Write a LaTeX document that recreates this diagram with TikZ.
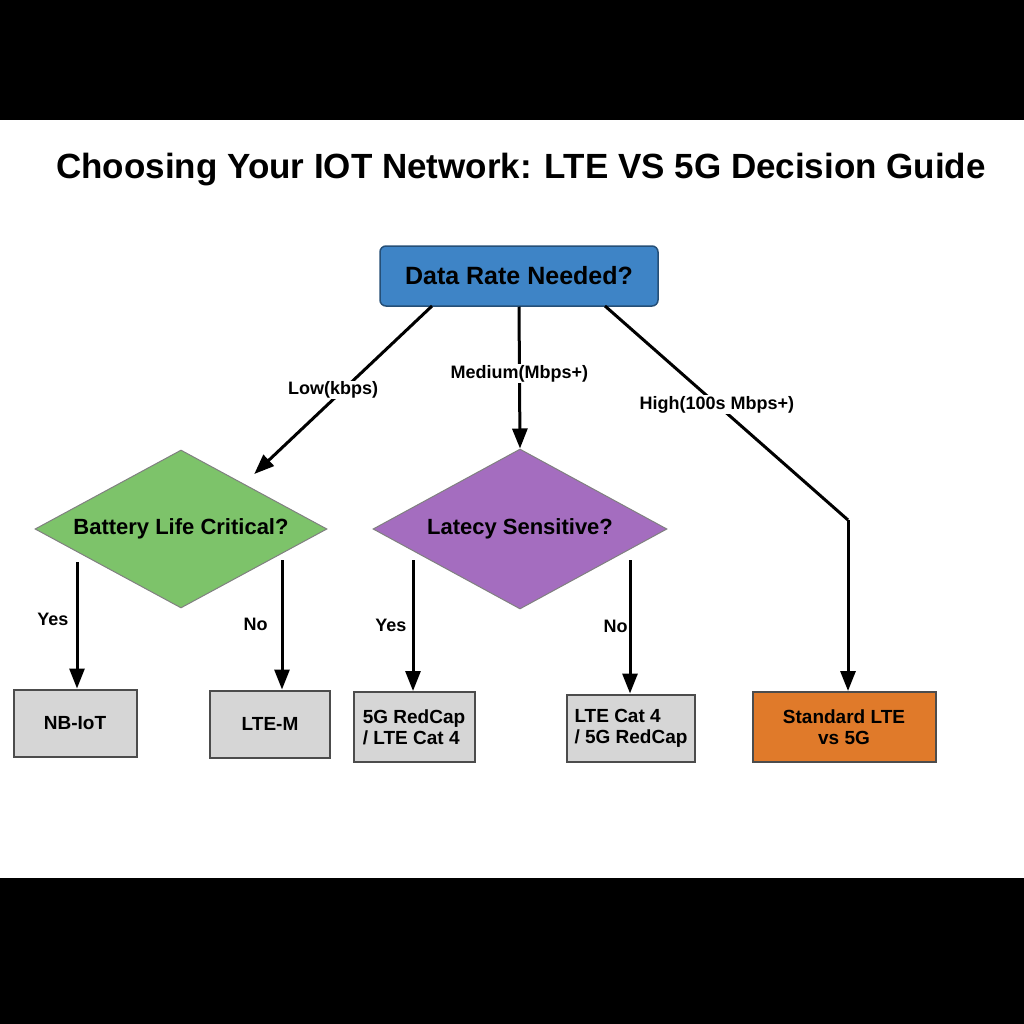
\documentclass[tikz,border=0pt]{standalone}
\usepackage{fontspec}
\setmainfont{Liberation Sans}
\usetikzlibrary{shapes.geometric,arrows.meta}
\definecolor{topblue}{HTML}{3E84C6}
\definecolor{diagreen}{HTML}{7DC36A}
\definecolor{diapurple}{HTML}{A46DBF}
\definecolor{boxgray}{HTML}{D6D6D6}
\definecolor{boxorange}{HTML}{E07A2A}
\tikzset{
  endbox/.style={rectangle, draw=black!70, line width=2pt, fill=boxgray,
    font=\fontsize{19}{21}\selectfont\bfseries, align=left, inner sep=2pt},
  choice/.style={diamond, draw=black!50, line width=1pt, aspect=1.87,
    font=\fontsize{22}{24}\selectfont\bfseries, inner sep=0pt},
  lbl/.style={font=\fontsize{18}{20}\selectfont\bfseries, fill=white, inner sep=1pt},
  flow/.style={line width=3pt, -{Triangle[length=20pt,width=15pt]}}
}
\begin{document}
\begin{tikzpicture}[x=1pt,y=-1pt]
  \useasboundingbox (0,0) rectangle (1024,1024);
  \fill[black] (0,0) rectangle (1024,120);
  \fill[black] (0,878) rectangle (1024,1024);
  \node (title) at (521,170) {\fontsize{35}{38}\selectfont\bfseries Choosing Your IOT Network: LTE VS 5G Decision Guide};
  % question nodes
  \node (rate) [rectangle, rounded corners=6pt, fill=topblue, draw=topblue!60!black,
    line width=1.5pt, minimum width=278pt, minimum height=60pt,
    font=\fontsize{25}{27}\selectfont\bfseries] at (519,276) {Data Rate Needed?};
  \node (battery) [choice, fill=diagreen, minimum width=292pt, minimum height=158pt] at (181,529) {Battery Life Critical?};
  \node (latency) [choice, fill=diapurple, minimum width=294pt, minimum height=160pt] at (520,529) {Latecy Sensitive?};
  % end boxes
  \node (nbiot) [endbox, minimum width=123pt, minimum height=67pt, align=center] at (75,723) {NB-IoT};
  \node (ltem) [endbox, minimum width=120pt, minimum height=67pt, align=center] at (270,724) {LTE-M};
  \node (redcap) [endbox, minimum width=121pt, minimum height=70pt] at (414,727) {5G RedCap\\/ LTE Cat 4};
  \node (cat4) [endbox, minimum width=128pt, minimum height=67pt] at (631,728) {LTE Cat 4\\/ 5G RedCap};
  \node (std) [endbox, fill=boxorange, minimum width=183pt, minimum height=70pt, align=center] at (844,727) {Standard LTE\\vs 5G};
  \coordinate (bend) at (848,520);
  % connectors
  \draw[flow] (432,306) -- (battery.north east |- 0,474) node[pos=0.5, lbl, xshift=-10pt] {Low(kbps)};
  \draw[flow] (rate.south) -- (latency.north) node[pos=0.47, lbl] {Medium(Mbps+)};
  \draw[line width=3pt] (605,306) -- (bend) node[pos=0.46, lbl] {High(100s Mbps+)};
  \draw[flow] (bend) -- (std.north -| bend);
  \draw[flow] (77,562) -- (nbiot.north -| 77,0) node[pos=0.45, lbl, left=6pt] {Yes};
  \draw[flow] (282,560) -- (ltem.north -| 282,0) node[pos=0.5, lbl, left=12pt] {No};
  \draw[flow] (413,560) -- (redcap.north -| 413,0) node[pos=0.5, lbl, left=4pt] {Yes};
  \draw[flow] (630,560) -- (cat4.north -| 630,0) node[pos=0.5, lbl, left=0pt] {No};
\end{tikzpicture}
\end{document}
